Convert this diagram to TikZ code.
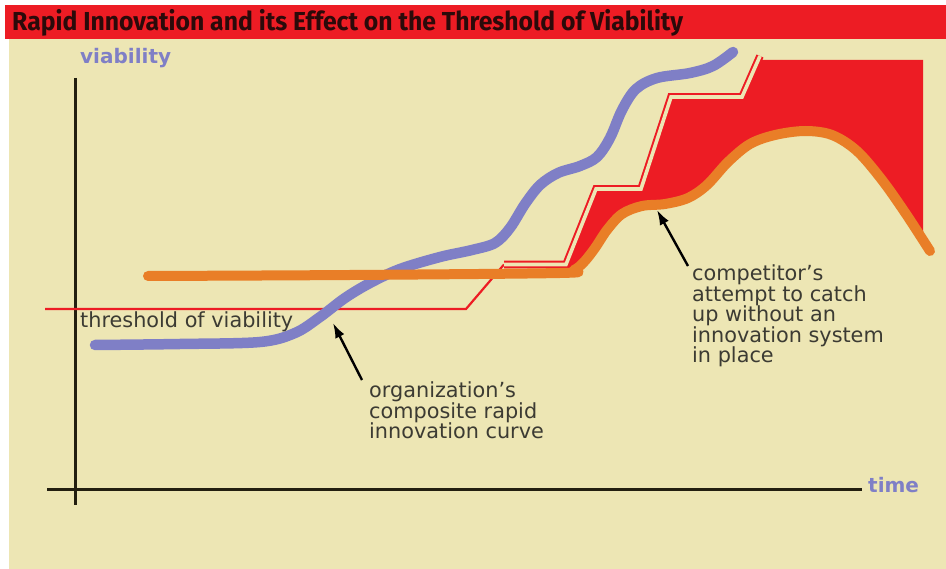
\documentclass[tikz,border=0pt]{standalone}
\usepackage{fontspec}
\setmainfont{DejaVu Sans}
\newfontfamily\titlefont{Fira Sans}
\usetikzlibrary{arrows.meta}
\definecolor{bgbeige}{HTML}{EDE6B4}
\definecolor{barred}{HTML}{ED1C24}
\definecolor{curveorange}{HTML}{E97E27}
\definecolor{curveblue}{HTML}{7F7FC6}
\definecolor{axisdark}{HTML}{231F10}
\definecolor{labeltext}{HTML}{3C3B33}
\definecolor{titletext}{HTML}{2B0A0A}
\tikzset{
  axisline/.style={draw=axisdark, line width=3pt},
  bluecurve/.style={draw=curveblue, line width=10.5pt, line cap=round, line join=round},
  orangecurve/.style={draw=curveorange, line width=10pt, line cap=round, line join=round},
  thresholdline/.style={draw=barred, line width=2.2pt, line join=miter},
  doublestep/.style={draw=barred, line width=2pt, double=bgbeige, double distance=3.6pt, line join=miter},
  axislabel/.style={text=curveblue, font=\bfseries\fontsize{20}{20}\selectfont, inner sep=0pt},
  note/.style={text=labeltext, font=\fontsize{20.8}{20.5}\selectfont, align=left, inner sep=0pt},
  pointer/.style={draw=black, line width=2.4pt, -{Latex[length=15pt,width=10pt]}}
}
\begin{document}
\begin{tikzpicture}[x=1pt,y=-1pt]
\useasboundingbox (0,0) rectangle (946,569);
\fill[white] (0,0) rectangle (946,569);
\fill[bgbeige] (9,39) rectangle (946,569);
\fill[barred] (5,5) rectangle (946,39);
\node[anchor=base west, inner sep=0pt, text=titletext] (title) at (12,31)
  {\resizebox{671pt}{\height}{\titlefont\bfseries\fontsize{26}{26}\selectfont Rapid Innovation and its Effect on the Threshold of Viability}};

% axes
\coordinate (ytop) at (75,78);
\coordinate (ybot) at (75,505);
\coordinate (xleft) at (47,489);
\coordinate (xright) at (862,489);
\draw[axisline] (ytop) -- (ybot);
\draw[axisline] (xleft) -- (xright);
\node[axislabel, anchor=base west] (ylabel) at (80,64) {viability};
\node[axislabel, anchor=base west] (xlabel) at (868,493) {time};

% red fill between new threshold and competitor curve
\fill[barred] plot[smooth, tension=0.55] coordinates {(560,273) (574,270) (584,262) (595,248) (607,230) (622,214) (642,206) (665,204) (688,198) (707,185) (728,162) (750,144) (775,135) (805,131) (832,135) (857,151) (882,180) (906,214) (930,251)}
  -- (923,240) -- (923,60) -- (760,60) -- (742,97) -- (671,97) -- (641,189) -- (596,189) -- (566,264) -- cycle;

% threshold lines
\coordinate (th0) at (45,309);
\coordinate (th1) at (466,309);
\coordinate (th2) at (504,264.5);
\draw[thresholdline] (th0) -- (th1) -- (th2);
\draw[doublestep] (th2) -- (566,264.5) -- (596,189) -- (641,189) -- (671,97) -- (742,97) -- (760,56);

% organization's curve
\draw[bluecurve] plot[smooth, tension=0.55] coordinates {(95,345) (180,344) (260,342) (295,333) (320,317) (345,298) (370,283) (400,269) (440,257) (472,250) (495,243) (510,228) (525,204) (540,185) (558,173) (580,166) (597,157) (610,138) (622,110) (636,89) (657,78) (690,73) (713,66) (733,52)};

% competitor's curve
\draw[orangecurve] plot[smooth, tension=0.55] coordinates {(148,276) (350,275) (560,273) (574,270) (584,262) (595,248) (607,230) (622,214) (642,206) (665,204) (688,198) (707,185) (728,162) (750,144) (775,135) (805,131) (832,135) (857,151) (882,180) (906,214) (930,251)};

% labels
\node[note, anchor=base west] (thlabel) at (80,328) {threshold of viability};
\node[note, anchor=north west] (orglabel) at (369,381.5) {organization’s\\composite rapid\\innovation curve};
\node[note, anchor=north west] (complabel) at (692,264.5) {competitor’s\\attempt to catch\\up without an\\innovation system\\in place};

% pointers
\coordinate (orgtail) at (362,380);
\coordinate (orgtip) at (333,323);
\coordinate (comptail) at (688,266);
\coordinate (comptip) at (657,210);
\draw[pointer] (orgtail) -- (orgtip);
\draw[pointer] (comptail) -- (comptip);
\end{tikzpicture}
\end{document}
